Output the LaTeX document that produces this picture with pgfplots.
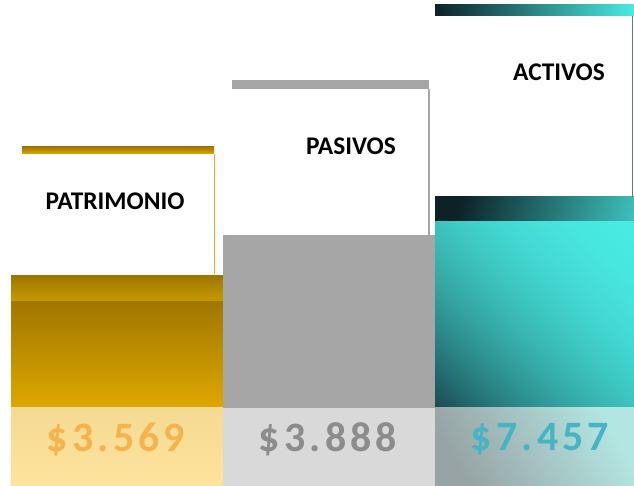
\documentclass[border=0pt]{standalone}
\usepackage{pgfplots}
\pgfplotsset{compat=1.18}
\usepackage{fontspec}
\setmainfont{Carlito}
\newfontfamily\valfont[LetterSpace=10]{Carlito}

\definecolor{goldcaptop}{HTML}{9E7700}
\definecolor{goldcapbot}{HTML}{C89A00}
\definecolor{golddark}{HTML}{A07800}
\definecolor{goldlow}{HTML}{E0A700}
\definecolor{goldbox}{HTML}{FDE39B}
\definecolor{goldboxtop}{HTML}{F4DA93}
\definecolor{goldtxt}{HTML}{F7B24C}
\definecolor{goldline}{HTML}{F5A623}
\definecolor{graybar}{HTML}{A6A6A6}
\definecolor{graybox}{HTML}{D9D9D9}
\definecolor{graytxt}{HTML}{8C8C8C}
\definecolor{tealdark}{HTML}{0C2226}
\definecolor{tealbright}{HTML}{4AEAE2}
\definecolor{tealdeep}{HTML}{1A4F54}
\definecolor{tealboxl}{HTML}{97A3A4}
\definecolor{tealboxr}{HTML}{B3E6E2}
\definecolor{tealtxt}{HTML}{45B5C5}

% bars start at 0, so the gradient is put on the visible part only
\pgfdeclareverticalshading{goldcap}{100bp}{color(0bp)=(goldcapbot); color(68.8bp)=(goldcapbot); color(75bp)=(goldcaptop); color(100bp)=(goldcaptop)}
\pgfdeclareverticalshading{goldbody}{100bp}{color(0bp)=(goldlow); color(46.2bp)=(goldlow); color(75bp)=(golddark); color(100bp)=(golddark)}
% teal body: diagonal, dark in the lower left corner; visible part is y 39.8..75 of the shading box
\pgfdeclarefunctionalshading{tealbody}{\pgfpointorigin}{\pgfpoint{100bp}{100bp}}{}{
  39.8 sub 35.2 div exch 25 sub 50 div add 2 div
  1 exch sub dup mul dup 1 gt {pop 1} if
  dup 0.18 mul 0.282 exch sub
  exch dup 0.628 mul 0.918 exch sub
  exch 0.572 mul 0.886 exch sub
}

\begin{document}
\begin{tikzpicture}
\begin{axis}[
  width=634bp, height=486bp, scale only axis,
  xmin=0, xmax=634, ymin=0, ymax=486,
  hide axis, clip=false,
  every axis plot/.append style={ybar, bar shift=0pt, draw=none},
]
\path (rel axis cs:0,0) rectangle (rel axis cs:1,1);
% PATRIMONIO column
\addplot[bar width=212, shade, shading=goldcap] coordinates {(117,210)};
\addplot[bar width=212, shade, shading=goldbody] coordinates {(117,184)};
\addplot[bar width=212, top color=goldboxtop, bottom color=goldbox] coordinates {(117,78)};
% PASIVOS column
\addplot[bar width=212, fill=graybar] coordinates {(329,251)};
\addplot[bar width=212, fill=graybox] coordinates {(329,78)};
% ACTIVOS column
\addplot[bar width=199, left color=tealdark, right color=tealbright, shading angle=75] coordinates {(534.5,289)};
\addplot[bar width=199, shade, shading=tealbody] coordinates {(534.5,264)};
\addplot[bar width=199, bottom color=tealboxl, top color=tealboxr, shading angle=-60] coordinates {(534.5,78)};

% label boxes
\fill[top color=golddark, bottom color=goldlow] (axis cs:22,332) rectangle (axis cs:214,339);
\draw[goldline, line width=1pt] (axis cs:214,332) -- (axis cs:214,212);
\fill[graybar] (axis cs:232,397) rectangle (axis cs:429,406);
\draw[graybar, line width=1.2pt] (axis cs:429,397) -- (axis cs:429,251);
\fill[left color=tealdark, right color=tealbright] (axis cs:435,470) rectangle (axis cs:634,481);
\draw[tealdeep!50!graybar, line width=1pt] (axis cs:632,470) -- (axis cs:632,289);

\node[font=\fontsize{25.5}{28}\selectfont\bfseries] at (axis cs:115,285) {PATRIMONIO};
\node[font=\fontsize{25.5}{28}\selectfont\bfseries] at (axis cs:351,340) {PASIVOS};
\node[font=\fontsize{25.5}{28}\selectfont\bfseries] at (axis cs:559,414) {ACTIVOS};

\node[font=\valfont\fontsize{42}{46}\selectfont\bfseries, text=goldtxt] at (axis cs:116,47) {\$3.569};
\node[font=\valfont\fontsize{42}{46}\selectfont\bfseries, text=graytxt] at (axis cs:328,47) {\$3.888};
\node[font=\valfont\fontsize{42}{46}\selectfont\bfseries, text=tealtxt] at (axis cs:540,47) {\$7.457};
\end{axis}
\end{tikzpicture}
\end{document}
